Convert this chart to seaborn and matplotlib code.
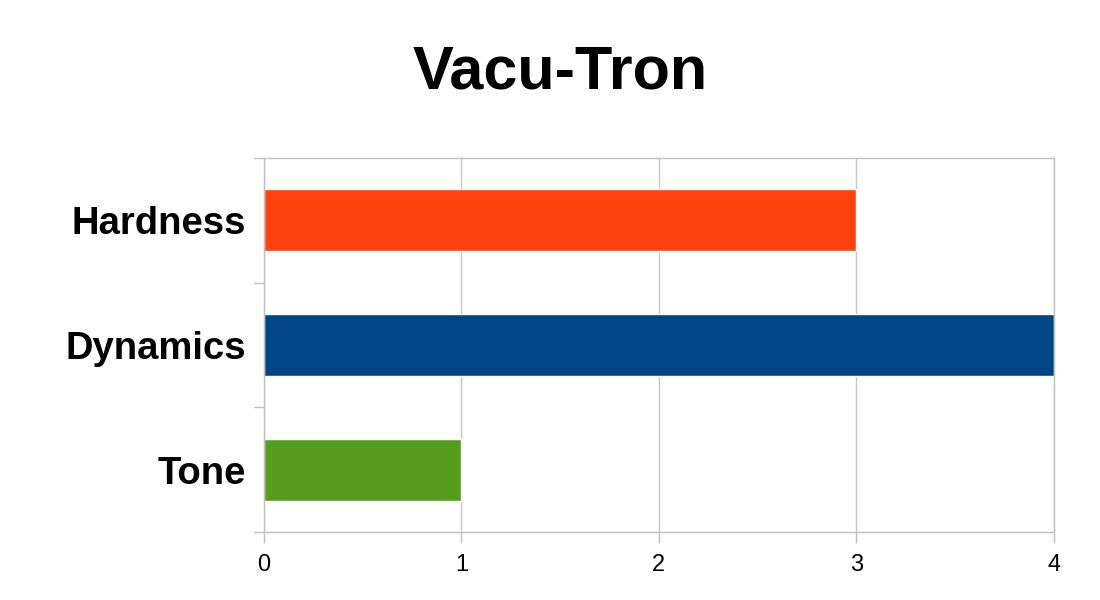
import matplotlib
matplotlib.use("Agg")
import matplotlib.pyplot as plt
import seaborn as sns

categories = ["Hardness", "Dynamics", "Tone"]
values = [3, 4, 1]
colors = ["#ff420e", "#004586", "#579d1c"]
x_ticks = [0, 1, 2, 3, 4]

sns.set_theme(style="white")
plt.rcParams["font.family"] = ["Liberation Sans", "DejaVu Sans"]
plt.rcParams["text.color"] = "black"
plt.rcParams["xtick.color"] = "black"
plt.rcParams["ytick.color"] = "black"

fig = plt.figure(figsize=(11, 6), dpi=100)
ax = fig.add_axes([0.24, 0.1133, 0.718, 0.6234])

sns.barplot(x=values, y=categories, hue=categories, palette=colors,
            width=0.5, orient="h", legend=False, saturation=1, ax=ax)

ax.set_xlim(0, 4)
ax.set_ylim(2.5, -0.5)
ax.set_xticks(x_ticks)
ax.set_xticklabels([str(t) for t in x_ticks], fontsize=17)
ax.grid(axis="x", color="#c8c8c8", linewidth=1.0)
ax.set_axisbelow(True)
ax.set_xlabel("")
ax.set_ylabel("")

for s in ax.spines.values():
    s.set_color("#c0c0c0")
    s.set_linewidth(1.0)

ax.tick_params(axis="x", which="major", direction="out", length=8, width=1.0,
               color="#c0c0c0", labelcolor="black", pad=8, bottom=True)
ax.tick_params(axis="y", which="major", length=0, pad=13, labelcolor="black")
ax.set_yticks([-0.5, 0.5, 1.5, 2.5], minor=True)
ax.tick_params(axis="y", which="minor", direction="out", length=7, width=1.0,
               color="#c0c0c0", left=True)
for lab in ax.get_yticklabels():
    lab.set_fontsize(27.5)
    lab.set_fontweight("bold")

fig.text(0.509, 0.878, "Vacu-Tron", ha="center", va="center",
         fontsize=44, fontweight="bold", color="black")

fig.savefig("out.png", dpi=100, facecolor="white")
